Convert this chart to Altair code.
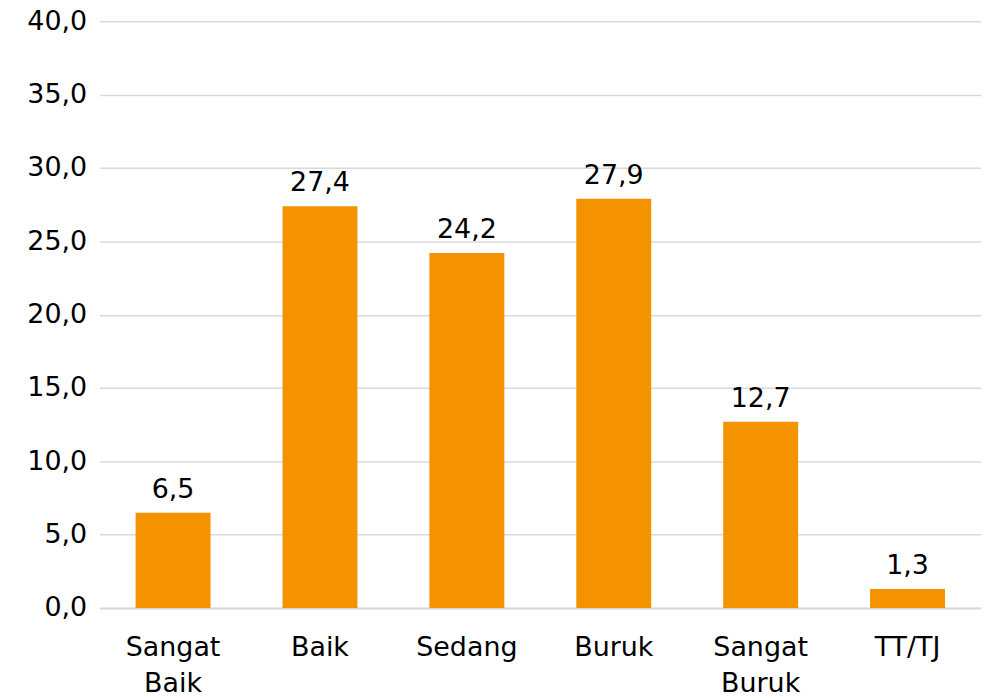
import altair as alt
import pandas as pd

categories = ["Sangat Baik", "Baik", "Sedang", "Buruk", "Sangat Buruk", "TT/TJ"]
values = [6.5, 27.4, 24.2, 27.9, 12.7, 1.3]

df = pd.DataFrame({"kategori": categories, "nilai": values})
FONT = "DejaVu Sans"
FS = 27

base = alt.Chart(df).transform_calculate(
    lbl="replace(format(datum.nilai, '.1f'), '.', ',')"
)

bars = base.mark_bar(color="#F49200").encode(
    x=alt.X("kategori:N", sort=categories, title=None,
            scale=alt.Scale(paddingInner=0.49, paddingOuter=0.245),
            axis=alt.Axis(labelAngle=0, labelFontSize=FS, labelFont=FONT, labelColor="#000000",
                          labelPadding=27, labelLineHeight=36, ticks=False,
                          domainColor="#d9d9d9", domainWidth=2,
                          labelExpr="split(datum.label, ' ')")),
    y=alt.Y("nilai:Q", title=None,
            scale=alt.Scale(domain=[0, 40], nice=False),
            axis=alt.Axis(values=[0, 5, 10, 15, 20, 25, 30, 35, 40], labelFontSize=FS, labelFont=FONT,
                          labelColor="#000000", labelPadding=13, ticks=False, domain=False,
                          gridColor="#d9d9d9", gridWidth=1.5,
                          labelExpr="replace(format(datum.value, '.1f'), '.', ',')")),
)

text = base.mark_text(dy=-15, baseline="alphabetic", fontSize=FS, font=FONT, color="#000000").encode(
    x=alt.X("kategori:N", sort=categories),
    y="nilai:Q",
    text="lbl:N",
)

chart = (bars + text).properties(
    width=885, height=589,
    autosize=alt.AutoSizeParams(type="none"),
    padding={"left": 92, "top": 12, "right": 0, "bottom": 90},
).configure_view(stroke=None)

chart.save("out.html", embed_options={"renderer": "svg", "actions": False})
